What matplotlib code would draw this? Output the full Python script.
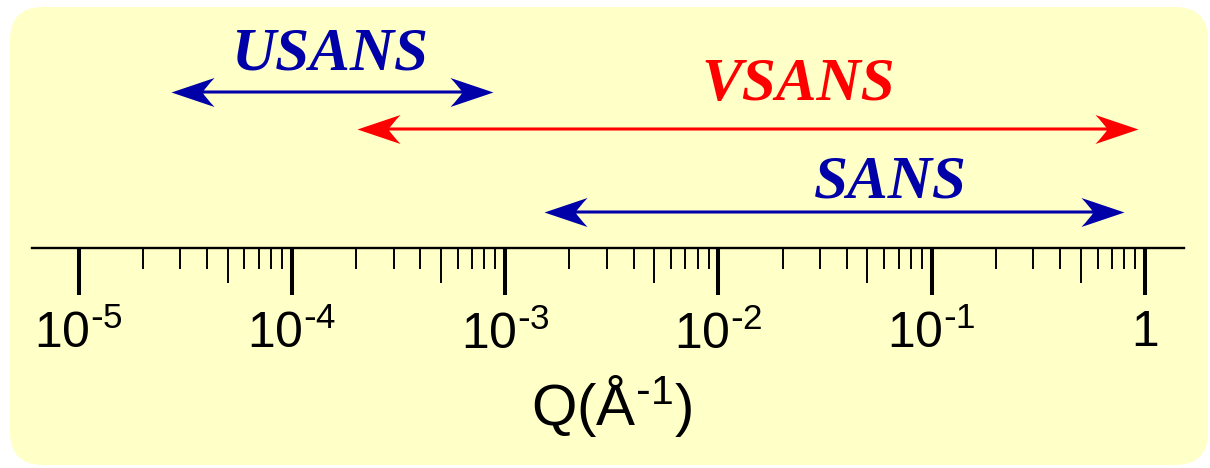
import numpy as np
import matplotlib.pyplot as plt
from matplotlib.patches import FancyBboxPatch
from matplotlib.path import Path

plt.rcParams['font.family'] = ['Liberation Sans', 'DejaVu Sans']
plt.rcParams['mathtext.default'] = 'regular'

# Q ranges (1/A) of the three instruments
names = ['USANS', 'VSANS', 'SANS']
q_lo = [2.7e-5, 2.03e-4, 1.52e-3]
q_hi = [8.8e-4, 0.93, 0.80]
colors = ['#0000A8', '#FF0000', '#0000A8']

decades = [1e-5, 1e-4, 1e-3, 1e-2, 1e-1, 1]
tick_labels = ['10$^{\\text{-}5}$', '10$^{\\text{-}4}$', '10$^{\\text{-}3}$',
               '10$^{\\text{-}2}$', '10$^{\\text{-}1}$', '1']
minors = [k * 10.0**e for e in range(-5, 0) for k in (2, 3, 4, 6, 7, 8, 9)]
fives = [5 * 10.0**e for e in range(-5, 0)]

W, H = 1210, 468
fig = plt.figure(figsize=(W / 100, H / 100), dpi=100)

# background in pixel coords
bg = fig.add_axes([0, 0, 1, 1])
bg.set_xlim(0, W); bg.set_ylim(H, 0)
bg.axis('off')
r = 33
bg.add_patch(FancyBboxPatch((10, 7), 1198, 458, boxstyle='round,pad=0,rounding_size=%d' % r,
                            fc='#FFFFC8', ec='none'))

ax = fig.add_axes([0, 0, 1, 1], zorder=2)
ax.patch.set_alpha(0)
ax.set_xscale('log')
dec = 213.3
x0px = 78.5
ax.set_xlim(10**(-5 - x0px / dec), 10**(-5 + (W - x0px) / dec))
ax.set_ylim(H, 0)

for s in ['left', 'right', 'top']:
    ax.spines[s].set_visible(False)
ax.spines['bottom'].set_position(('data', 248))
ax.spines['bottom'].set_bounds(10**(-5 + (32 - x0px) / dec), 10**(-5 + (1184 - x0px) / dec))
ax.spines['bottom'].set_linewidth(1.7)
ax.set_yticks([])

ax.set_xticks(decades, labels=tick_labels)
ax.set_xticks(minors, minor=True)
ax.xaxis.set_minor_formatter(plt.NullFormatter())
ax.tick_params(axis='x', which='major', length=34, width=2.9, labelsize=36, pad=11)
ax.tick_params(axis='x', which='minor', length=14.8, width=1.4)
ax.vlines(fives, 248, 283, color='black', lw=1.4)

# arrow heads (notched)
head_r = Path([(0, 0), (-43, 14.5), (-34, 5), (-31, 0), (-34, -5), (-43, -14.5), (0, 0)],
              [Path.MOVETO, Path.LINETO, Path.CURVE3, Path.CURVE3, Path.CURVE3, Path.CURVE3,
               Path.CLOSEPOLY])
head_l = Path(head_r.vertices * [-1, 1], head_r.codes)

arrow_y = [92, 129, 212]
for lo, hi, c, y in zip(q_lo, q_hi, colors, arrow_y):
    ax.annotate('', xy=(hi, y), xytext=(lo, y),
                arrowprops=dict(arrowstyle='-', color=c, lw=2.2, shrinkA=20, shrinkB=20))
    ax.plot([hi], [y], marker=head_r, ms=62, color=c, mew=0, ls='none')
    ax.plot([lo], [y], marker=head_l, ms=62, color=c, mew=0, ls='none')

label_pos = [(330, 70), (798, 100), (890, 198)]
for n, c, (px, py) in zip(names, colors, label_pos):
    bg.text(px, py, n, color=c, fontsize=44, family='Liberation Serif',
            weight='bold', style='italic', ha='center', va='baseline', zorder=3)

bg.text(612, 425, 'Q(Å$^{\\text{-}1}$)', fontsize=42, ha='center', va='baseline', zorder=3)

fig.savefig('out.png', dpi=100)
